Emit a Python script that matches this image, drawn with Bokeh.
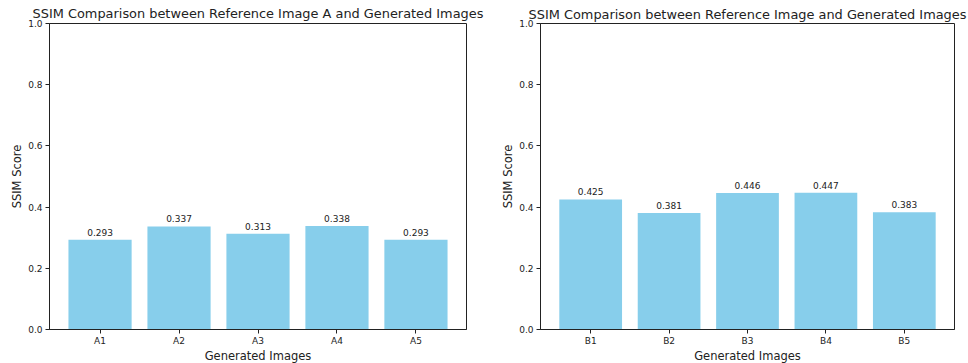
from bokeh.plotting import figure
from bokeh.layouts import row
from bokeh.models import ColumnDataSource, FixedTicker, LabelSet, Title
from bokeh.core.properties import value
from bokeh.embed import file_html
from bokeh.resources import INLINE

labels_a = ["A1", "A2", "A3", "A4", "A5"]
scores_a = [0.293, 0.337, 0.313, 0.338, 0.293]
labels_b = ["B1", "B2", "B3", "B4", "B5"]
scores_b = [0.425, 0.381, 0.446, 0.447, 0.383]
y_ticks = [0.0, 0.2, 0.4, 0.6, 0.8, 1.0]
title_a = "SSIM Comparison between Reference Image A and Generated Images"
title_b = "SSIM Comparison between Reference Image and Generated Images"
xlabel = "Generated Images"
ylabel = "SSIM Score"

FONT = "DejaVu Sans"
TXT = "#222222"


def make(labels, scores, title, bl, br, bb, standoff, xl_standoff):
    xs = list(range(len(labels)))
    src = ColumnDataSource(dict(x=xs, top=scores,
                                txt=[f"{v:.3f}" for v in scores]))
    p = figure(width=484, height=363, output_backend="svg", toolbar_location=None,
               x_range=(-0.64, len(labels) - 1 + 0.64), y_range=(0, 1),
               title=title, min_border_left=bl, min_border_right=br,
               min_border_top=0, min_border_bottom=bb)
    p.title.text_font = FONT
    p.title.text_font_size = "12.9px"
    p.title.text_font_style = "normal"
    p.title.text_color = TXT
    p.title.align = "center"
    p.title.standoff = standoff
    p.title.offset = 0
    p.vbar(x="x", top="top", width=0.8, bottom=0, source=src,
           fill_color="#87CEEB", line_color=None)
    p.add_layout(LabelSet(x="x", y="top", text="txt", source=src,
                          text_align="center", text_baseline="bottom",
                          y_offset=4, text_font=value(FONT), text_font_size=value("9px"),
                          text_color=TXT))
    xt = Title(text=xlabel, align="center", text_font=FONT, text_font_size="11.5px",
               text_font_style="normal", text_color=TXT, standoff=xl_standoff, offset=0)
    p.add_layout(xt, "below")
    p.xgrid.visible = False
    p.ygrid.visible = False
    p.outline_line_color = TXT
    p.outline_line_width = 1
    for ax in (p.xaxis[0], p.yaxis[0]):
        ax.axis_line_color = TXT
        ax.major_tick_line_color = TXT
        ax.minor_tick_line_color = None
        ax.major_tick_out = 4
        ax.major_tick_in = 0
        ax.major_label_text_font = FONT
        ax.major_label_text_font_size = "9px"
        ax.major_label_text_color = TXT
        ax.axis_label_text_font = FONT
        ax.axis_label_text_font_size = "11.5px"
        ax.axis_label_text_font_style = "normal"
        ax.axis_label_text_color = TXT
    p.xaxis.ticker = FixedTicker(ticks=xs)
    p.xaxis.major_label_overrides = {i: l for i, l in zip(xs, labels)}
    p.xaxis.major_label_standoff = 2
    p.yaxis.ticker = FixedTicker(ticks=y_ticks)
    p.yaxis.major_label_overrides = {t: f"{t:.1f}" for t in y_ticks}
    p.yaxis.axis_label = ylabel
    p.yaxis.major_label_standoff = 3
    p.yaxis.axis_label_standoff = 1
    return p


p1 = make(labels_a, scores_a, title_a, 49, 18, 31, 6, -4)
p2 = make(labels_b, scores_b, title_b, 56, 14, 34, 4, -4)
layout = row(p1, p2, spacing=0)
open("out.html", "w").write(file_html(layout, INLINE))
